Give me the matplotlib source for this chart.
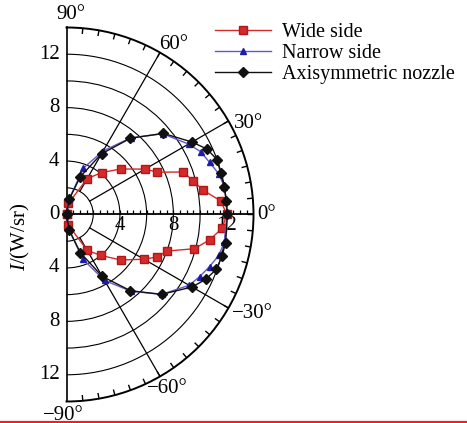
import numpy as np
import matplotlib
matplotlib.use("Agg")
import matplotlib.pyplot as plt
from matplotlib.lines import Line2D
from matplotlib.transforms import offset_copy

plt.rcParams['font.family'] = ['Liberation Serif', 'DejaVu Serif']
plt.rcParams['mathtext.fontset'] = 'custom'
plt.rcParams['mathtext.rm'] = 'Liberation Serif'
plt.rcParams['mathtext.it'] = 'Liberation Serif:italic'

# Radiation intensity I (W/sr) versus observation angle (degrees)
wide_angle = [90, 80, 60, 50, 40, 30, 25, 20, 15, 10, 5, 0,
              -5, -10, -15, -20, -25, -30, -40, -50, -60, -80, -90]
wide_I = [0.0, 0.85, 3.1, 4.1, 5.3, 6.8, 7.5, 9.3, 9.8, 10.4, 11.6, 12.0,
          11.7, 10.9, 9.9, 8.0, 7.5, 6.7, 5.3, 4.0, 3.1, 0.8, 0.0]

narrow_angle = [90, 80, 70, 60, 50, 40, 30, 25, 20, 15, 10, 5, 0,
                -10, -15, -20, -25, -30, -40, -50, -60, -70, -80, -90]
narrow_I = [0.0, 1.2, 3.7, 5.5, 7.5, 9.4, 10.55, 11.1, 11.4, 11.8, 12.0, 12.0, 12.0,
            12.0, 11.8, 11.4, 11.0, 10.6, 9.3, 7.5, 5.7, 3.55, 1.2, 0.0]

axi_angle = [90, 80, 70, 60, 50, 40, 30, 25, 20, 15, 10, 5, 0,
             -10, -15, -20, -25, -30, -40, -50, -60, -70, -80, -90]
axi_I = [0.0, 1.15, 3.0, 5.25, 7.45, 9.45, 10.85, 11.6, 12.0, 11.95, 12.0, 12.0, 12.05,
         12.1, 12.05, 11.95, 11.5, 10.85, 9.3, 7.45, 5.35, 3.05, 1.2, 0.0]

r_max = 14
r_circles = [2, 4, 6, 8, 10, 12]
axis_labels = [12, 8, 4, 0, 4, 8, 12]
axis_label_pos = [12, 8, 4, 0, -4, -8, -12]
zero_line_labels = [4, 8, 12]
angle_labels = {90: '90°', 60: '60°', 30: '30°', 0: '0°',
                -30: '\u221230°', -60: '\u221260°', -90: '\u221290°'}

W, H = 467, 423
# origin of the half disc and its radius, in pixels
cx, cy, R = 66.5, 214.5, 187
fig = plt.figure(figsize=(W / 100, H / 100), dpi=100)
box_cx = cx + R / 2
ax = fig.add_axes([(box_cx - R) / W, (H - cy - R) / H, 2 * R / W, 2 * R / H],
                  projection='polar')
ax.set_thetamin(-90)
ax.set_thetamax(90)
ax.set_rlim(0, r_max)
ax.set_rticks(r_circles)
ax.set_yticklabels([])
ax.set_xticks([])
ax.yaxis.grid(True, color='k', lw=0.8)
ax.spines['polar'].set_linewidth(1.4)
ax.spines['start'].set_linewidth(1.2)
ax.spines['end'].set_linewidth(1.2)

# radial guide lines at +-30 and +-60 degrees
for deg in (-60, -30, 30, 60):
    th = np.deg2rad(deg)
    ax.plot([th, th], [2, r_max], color='k', lw=0.9)

# 0 degree axis with small ticks
ax.plot([0, 0], [0, r_max], color='k', lw=1.3, clip_on=False)
ticks_r = np.arange(0.5, r_max, 0.5)
ax.plot(np.zeros_like(ticks_r), ticks_r, ls='none', marker=2, ms=3.2,
        mew=0.9, color='k', clip_on=False)

# ticks on the outer arc every 5 degrees
for deg in range(-85, 90, 5):
    th = np.deg2rad(deg)
    ax.plot([th, th], [r_max - 0.38, r_max], color='k', lw=1.0)

# data series
ax.plot(np.deg2rad(wide_angle), wide_I, color='#d42a2a', lw=1.0, marker='s',
        ms=5.2, mfc='#d42a2a', mec='#b01818', clip_on=False, zorder=5,
        label='Wide side')
ax.plot(np.deg2rad(narrow_angle), narrow_I, color='#6458c8', lw=1.0, marker='^',
        ms=5.0, mfc='#1c1ca8', mec='#1c1ca8', clip_on=False, zorder=6,
        label='Narrow side')
ax.plot(np.deg2rad(axi_angle), axi_I, color='#111111', lw=1.0, marker='D',
        ms=5.6, mfc='#111111', mec='#111111', clip_on=False, zorder=7,
        label='Axisymmetric nozzle')

fs = 15

def place(th_deg, r, text, dx, dy, ha, va):
    tr = offset_copy(ax.transData, fig=fig, x=dx, y=dy, units='dots')
    ax.text(np.deg2rad(th_deg), r, text, transform=tr, ha=ha, va=va,
            fontsize=fs, clip_on=False)

# intensity labels along the vertical diameter
for lab, pos in zip(axis_labels, axis_label_pos):
    th = 90 if pos >= 0 else -90
    place(th, abs(pos), str(lab), -7, 0, 'right', 'center')

# intensity labels under the 0 degree axis
for lab in zero_line_labels:
    place(0, lab, str(lab), 0, -1, 'center', 'top')

# angle labels
place(90, r_max, angle_labels[90], 4, 4, 'center', 'bottom')
place(60, r_max, angle_labels[60], -1, -1, 'left', 'bottom')
place(30, r_max, angle_labels[30], 5, -2, 'left', 'center')
place(0, r_max, angle_labels[0], 4, 0, 'left', 'center')
place(-30, r_max, angle_labels[-30], 4, -6, 'left', 'center')
place(-60, r_max, angle_labels[-60], -13, -3, 'left', 'top')
place(-90, r_max, angle_labels[-90], -3, -4, 'center', 'top')

fig.text(20 / W, 1 - 237 / H, r'$I$/(W/sr)', rotation=90, ha='center',
         va='center', fontsize=fs)

fig.legend(loc='upper left', bbox_to_anchor=(215 / W, 1 - 23 / H),
           frameon=False, fontsize=14.5, handlelength=2.8, handletextpad=0.55,
           labelspacing=0.1, borderpad=0, borderaxespad=0)

fig.add_artist(Line2D([0, 1], [1 - 421.5 / H] * 2, transform=fig.transFigure,
                      color='#ff1a1a', lw=1.6))

fig.savefig('out.png', dpi=100, facecolor='white')
